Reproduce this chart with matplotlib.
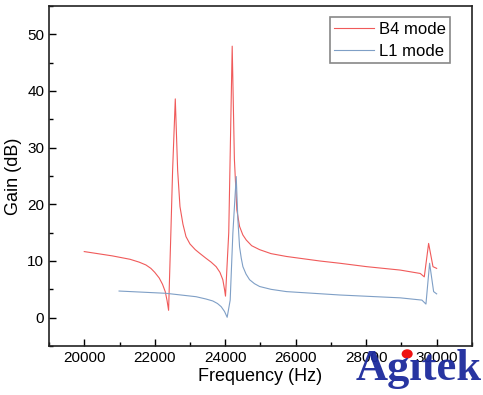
import matplotlib.pyplot as plt
from matplotlib.ticker import MultipleLocator

plt.rcParams['font.family'] = ['Liberation Sans', 'DejaVu Sans']

# B4 mode (red)
b4_freq = [20000, 20798, 21300, 21557, 21750, 21890, 22000, 22127, 22220, 22298,
           22350, 22393, 22460, 22507, 22583, 22650, 22716, 22800, 22887, 23000,
           23150, 23267, 23450, 23600, 23742, 23850, 23932, 23980, 24008, 24100,
           24198, 24260, 24330, 24407, 24500, 24597, 24750, 24976, 25300, 25737,
           26686, 27255, 28015, 28965, 29535, 29649, 29772, 29896, 30000]
b4_gain = [11.66, 10.9, 10.3, 9.8, 9.3, 8.7, 8.0, 7.0, 5.9, 4.6,
           3.0, 1.3, 15.5, 26.0, 38.6, 26.0, 19.6, 16.5, 14.3, 13.0,
           12.0, 11.4, 10.5, 9.8, 9.0, 8.0, 6.7, 5.0, 3.8, 15.0,
           47.9, 28.0, 19.0, 16.1, 14.6, 13.7, 12.7, 12.0, 11.3, 10.8,
           10.0, 9.6, 9.0, 8.4, 7.8, 7.2, 13.1, 9.0, 8.7]

# L1 mode (blue)
l1_freq = [20988, 22317, 23172, 23450, 23647, 23780, 23884, 23980, 24055, 24141,
           24217, 24312, 24359, 24407, 24455, 24502, 24590, 24691, 24830, 24976,
           25300, 25737, 26500, 27255, 28965, 29582, 29696, 29800, 29914, 30000]
l1_gain = [4.7, 4.3, 3.7, 3.3, 2.95, 2.5, 1.95, 1.1, 0.07, 3.1,
           14.9, 24.9, 17.3, 12.5, 10.5, 9.0, 7.7, 6.7, 6.0, 5.5,
           5.0, 4.6, 4.3, 4.0, 3.5, 3.1, 2.4, 9.6, 4.6, 4.2]

fig = plt.figure(figsize=(4.83, 3.95), dpi=100)
ax = fig.add_axes([0.1015, 0.124, 0.8755, 0.861])

ax.plot(b4_freq, b4_gain, color='#f05a5a', linewidth=0.8, label='B4 mode')
ax.plot(l1_freq, l1_gain, color='#7f9fc6', linewidth=0.8, label='L1 mode')

ax.set_xlim(19000, 31000)
ax.set_ylim(-5, 55)
ax.xaxis.set_major_locator(MultipleLocator(2000))
ax.xaxis.set_minor_locator(MultipleLocator(1000))
ax.yaxis.set_major_locator(MultipleLocator(10))
ax.yaxis.set_minor_locator(MultipleLocator(5))
ax.tick_params(which='both', direction='in', top=False, right=False, labelsize=11)
ax.tick_params(which='major', length=5, width=1)
ax.tick_params(which='minor', length=3, width=1)
for s in ax.spines.values():
    s.set_linewidth(1.2)
    s.set_color('#222222')

ax.set_xlabel('Frequency (Hz)', fontsize=13, labelpad=2)
ax.set_ylabel('Gain (dB)', fontsize=13, labelpad=4)

leg = ax.legend(loc='upper right', bbox_to_anchor=(0.948, 0.966), fontsize=12,
                fancybox=False, framealpha=1, edgecolor='#888888',
                handlelength=2.4, handletextpad=0.3, borderaxespad=0,
                labelspacing=0.42, borderpad=0.25)
leg.get_frame().set_linewidth(1.2)

# watermark
fig.text(0.737, 0.037, 'Ag\u0131tek', fontsize=32, fontweight='bold',
         family='Liberation Serif', color='#1c2a9c', alpha=0.95)
fig.patches.append(plt.Circle((0.843, 0.104), 0.010, transform=fig.transFigure,
                              color='#ee1111', figure=fig))

fig.savefig('out.png', dpi=100)
